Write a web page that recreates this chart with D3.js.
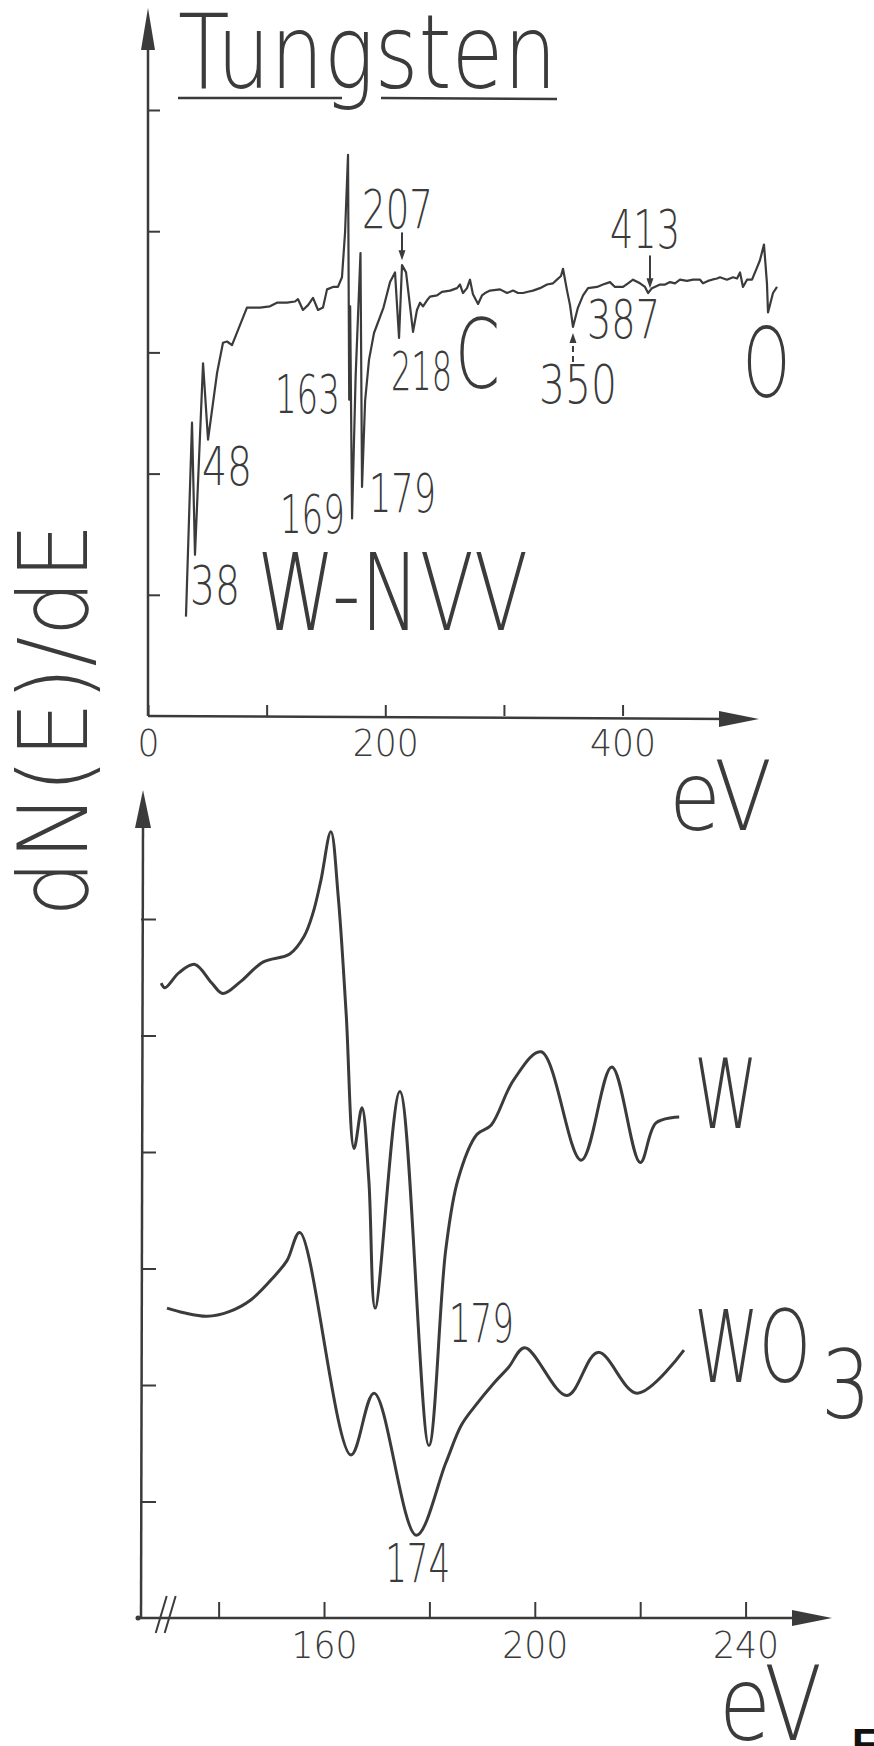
<!DOCTYPE html>
<html>
<head>
<meta charset="utf-8">
<script src="https://cdn.jsdelivr.net/npm/d3@7"></script>
<style>
  body { margin: 0; background: #fff; }
  svg { display: block; }
</style>
</head>
<body>
<script>
var width = 874;
var height = 1746;

// upper spectrum: survey 0 - 530 eV
var surveyEV = [32.0, 37.1, 39.6, 46.4, 50.6, 58.2, 63.2, 66.6, 70.8, 83.4, 94.4, 102.8, 108.7, 117.2, 123.9, 126.4,
  130.6, 134.9, 139.1, 143.3, 147.5, 150.9, 155.9, 160.1, 163.5, 166.1, 168.6, 169.2, 169.6, 170.4, 172.0, 175.0,
  179.1, 180.4, 183.0, 186.3, 190.5, 198.5, 204.0, 208.2, 211.6, 214.1, 217.5, 223.4, 226.7, 229.3, 231.8, 235.2,
  237.7, 243.6, 247.8, 254.6, 260.5, 263.0, 265.5, 268.9, 271.4, 273.9, 278.2, 281.5, 284.1, 288.3, 296.7, 302.6,
  307.7, 311.9, 316.1, 320.3, 324.5, 330.4, 336.3, 341.4, 344.7, 348.1, 349.8, 353.2, 355.7, 358.2, 362.4, 366.7,
  370.9, 378.5, 383.5, 389.4, 393.6, 400.4, 404.6, 408.8, 414.7, 418.9, 421.5, 424.8, 431.6, 435.8, 440.0, 444.2,
  448.4, 454.3, 459.4, 465.3, 467.8, 472.0, 475.4, 479.6, 482.1, 488.0, 493.1, 496.5, 499.0, 501.5, 504.9, 509.1,
  513.3, 515.8, 519.2, 521.7, 522.6, 526.8, 530.2];
var surveySignal = [0.82, 2.42, 1.33, 2.91, 2.28, 2.83, 3.08, 3.09, 3.06, 3.37, 3.37, 3.38, 3.41, 3.41, 3.42, 3.44,
  3.35, 3.39, 3.45, 3.35, 3.37, 3.52, 3.54, 3.54, 3.62, 3.99, 4.63, 3.40, 2.61, 3.38, 1.63, 2.80,
  3.82, 1.89, 2.60, 2.94, 3.16, 3.37, 3.58, 3.66, 3.12, 3.72, 3.66, 3.17, 3.35, 3.41, 3.38, 3.43,
  3.46, 3.47, 3.50, 3.51, 3.53, 3.56, 3.49, 3.53, 3.60, 3.48, 3.40, 3.47, 3.49, 3.51, 3.52, 3.49,
  3.51, 3.49, 3.49, 3.50, 3.51, 3.53, 3.56, 3.57, 3.60, 3.63, 3.69, 3.51, 3.39, 3.21, 3.37, 3.47,
  3.53, 3.54, 3.56, 3.58, 3.54, 3.54, 3.57, 3.60, 3.57, 3.54, 3.49, 3.53, 3.56, 3.56, 3.58, 3.57,
  3.60, 3.59, 3.60, 3.60, 3.57, 3.59, 3.60, 3.61, 3.62, 3.60, 3.62, 3.61, 3.66, 3.54, 3.60, 3.60,
  3.70, 3.76, 3.89, 3.57, 3.33, 3.49, 3.54];

// lower spectra: W-NVV region, metal and oxide
var metalEV = [129.1, 129.8, 132.5, 135.5, 138.7, 140.8, 144.1, 148.4, 153.5, 156.2, 157.9, 159.4, 161.3, 162.7,
  164.2, 165.7, 167.2, 168.5, 169.7, 174.4, 179.9, 183.1, 185.4, 189.0, 191.7, 196.0, 201.2, 208.8, 214.6,
  220.0, 223.0, 227.4];
var metalSignal = [5.45, 5.41, 5.54, 5.61, 5.45, 5.36, 5.46, 5.63, 5.70, 5.85, 6.05, 6.33, 6.75, 6.19,
  5.19, 4.03, 4.38, 3.76, 2.66, 4.52, 1.48, 3.16, 3.76, 4.15, 4.23, 4.62, 4.86, 3.93, 4.73,
  3.91, 4.25, 4.30];
var oxideEV = [130.2, 133.4, 137.8, 142.0, 146.1, 150.5, 153.0, 155.4, 165.1, 169.5, 177.5, 183.1, 186.0, 188.5,
  192.3, 195.0, 198.1, 206.1, 212.0, 219.4, 228.3];
var oxideSignal = [2.66, 2.62, 2.59, 2.63, 2.73, 2.93, 3.07, 3.31, 1.40, 1.93, 0.71, 1.33, 1.65, 1.81,
  2.02, 2.15, 2.32, 1.91, 2.28, 1.93, 2.30];

// axis ticks
var surveyTicks = [0, 100, 200, 300, 400];
var surveyTickLabels = [0, 200, 400];
var detailTicks = [140, 160, 180, 200, 220, 240];
var detailTickLabels = [160, 200, 240];

// peak energies written on the survey, and where each number sits (eV, signal)
var surveyNoteText = ["38", "48", "163", "169", "179", "207", "218", "350", "387", "413"];
var surveyNoteEV = [35.4, 45.5, 161.8, 166.0, 186.3, 180.4, 204.8, 329.6, 370.0, 389.4];
var surveyNoteVal = [0.92, 1.91, 2.50, 1.51, 1.68, 4.03, 2.69, 2.58, 3.12, 3.86];
var surveyNoteLen = [50, 50, 65, 65, 67, 71, 61, 78, 73, 70];
var surveyNoteAnchor = ["start", "start", "end", "end", "start", "start", "start", "start", "start", "start"];

// arrows on the survey: eV, from, to
var arrowEV = [214.1, 423.1, 358.2];
var arrowFrom = [3.99, 3.80, 2.92];
var arrowTo = [3.76, 3.53, 3.16];

var detailNoteText = ["179", "174"];
var detailNoteEV = [183.7, 171.6];
var detailNoteVal = [2.37, 0.31];

var ink = "#3b3b3b";
var thin = "DejaVu Sans";

var svg = d3.select("body").append("svg")
  .attr("width", width)
  .attr("height", height);

svg.append("rect").attr("width", width).attr("height", height).attr("fill", "#fff");

var label = function(x, y, txt, size, len, anchor){
  var t = svg.append("text")
    .attr("x", x).attr("y", y)
    .attr("font-family", thin)
    .attr("font-weight", 200)
    .attr("font-size", size)
    .attr("fill", ink)
    .attr("text-anchor", anchor || "start")
    .text(txt);
  if (len) t.attr("textLength", len).attr("lengthAdjust", "spacingAndGlyphs");
  return t;
};

var arrowHead = function(x, y, dx, dy, len, half){
  // tip at (x,y), pointing along (dx,dy)
  var bx = x - dx*len, by = y - dy*len;
  var px = -dy*half, py = dx*half;
  svg.append("path")
    .attr("d", "M" + x + "," + y + "L" + (bx+px) + "," + (by+py) + "L" + (bx-px) + "," + (by-py) + "Z")
    .attr("fill", ink);
};

// ---------- upper panel ----------
var xTop = d3.scaleLinear().domain([0, 515]).range([148, 759]);
var yTop = d3.scaleLinear().domain([0, 5]).range([716, 110]);

svg.append("g")
  .attr("transform", "translate(0," + yTop(0) + ")")
  .call(d3.axisBottom(xTop)
    .tickValues(surveyTicks)
    .tickSizeInner(-11).tickSizeOuter(0).tickPadding(13)
    .tickFormat(function(d){ return surveyTickLabels.indexOf(d) >= 0 ? d : ""; }))
  .call(function(g){
    g.select(".domain").remove();
    g.selectAll("line").attr("stroke", ink).attr("stroke-width", 2);
    g.selectAll("text")
      .attr("font-family", thin).attr("font-weight", 200).attr("font-size", 38).attr("fill", ink)
      .each(function(d){
        if (surveyTickLabels.indexOf(d) >= 0)
          d3.select(this).attr("textLength", String(d).length*22).attr("lengthAdjust", "spacingAndGlyphs");
      });
  });

svg.append("g")
  .attr("transform", "translate(" + xTop(0) + ",0)")
  .call(d3.axisLeft(yTop).tickValues([1, 2, 3, 4, 5]).tickSizeInner(-12).tickSizeOuter(0).tickFormat(""))
  .call(function(g){
    g.select(".domain").remove();
    g.selectAll("line").attr("stroke", ink).attr("stroke-width", 2);
  });

svg.append("line")
  .attr("x1", xTop(0)).attr("y1", yTop(0))
  .attr("x2", xTop(0)).attr("y2", 40)
  .attr("stroke", ink).attr("stroke-width", 2.5);
arrowHead(xTop(0), 8, 0, -1, 42, 7);

svg.append("line")
  .attr("x1", xTop(0)).attr("y1", yTop(0))
  .attr("x2", xTop(515) - 30).attr("y2", yTop(0) + 3)
  .attr("stroke", ink).attr("stroke-width", 2.5);
arrowHead(xTop(515), yTop(0) + 3, 1, 0, 40, 8);

var surveyLine = d3.line()
  .x(function(i){ return xTop(surveyEV[i]); })
  .y(function(i){ return yTop(surveySignal[i]); });

svg.append("path")
  .attr("d", surveyLine(d3.range(surveyEV.length)))
  .attr("fill", "none")
  .attr("stroke", ink)
  .attr("stroke-width", 2.2)
  .attr("stroke-linejoin", "round");

surveyNoteText.forEach(function(t, i){
  label(xTop(surveyNoteEV[i]), yTop(surveyNoteVal[i]), t, 54, surveyNoteLen[i], surveyNoteAnchor[i]);
});

arrowEV.forEach(function(ev, i){
  var x = xTop(ev), y1 = yTop(arrowFrom[i]), y2 = yTop(arrowTo[i]);
  var dir = y2 > y1 ? 1 : -1;
  svg.append("line")
    .attr("x1", x).attr("y1", y1).attr("x2", x).attr("y2", y2 - dir*8)
    .attr("stroke", ink).attr("stroke-width", 2)
    .attr("stroke-dasharray", i === 2 ? "6,4" : null);
  arrowHead(x, y2, 0, dir, 10, 3.5);
});

label(178, 88, "Tungsten", 103, 379);
svg.append("line").attr("x1", 178).attr("y1", 98).attr("x2", 342).attr("y2", 98)
  .attr("stroke", ink).attr("stroke-width", 2.5);
svg.append("line").attr("x1", 381).attr("y1", 98).attr("x2", 557).attr("y2", 99)
  .attr("stroke", ink).attr("stroke-width", 2.5);

label(xTop(91.9), yTop(0.71), "W-NVV", 107, 271);
label(xTop(258.8), yTop(2.71), "C", 97, 45);
label(xTop(501.5), yTop(2.63), "O", 97, 47);
label(669, 830, "eV", 96, 103);

// y title shared by both panels
svg.append("text")
  .attr("transform", "translate(87,917) rotate(-90)")
  .attr("font-family", thin).attr("font-weight", 200)
  .attr("font-size", 96).attr("fill", ink)
  .attr("textLength", 394).attr("lengthAdjust", "spacingAndGlyphs")
  .text("dN(E)/dE");

// ---------- lower panel ----------
var xBot = d3.scaleLinear().domain([124.7, 256.4]).range([138, 832]);
var yBot = d3.scaleLinear().domain([0, 6]).range([1618, 919]);

svg.append("g")
  .attr("transform", "translate(0," + yBot(0) + ")")
  .call(d3.axisBottom(xBot)
    .tickValues(detailTicks)
    .tickSizeInner(-16).tickSizeOuter(0).tickPadding(13)
    .tickFormat(function(d){ return detailTickLabels.indexOf(d) >= 0 ? d : ""; }))
  .call(function(g){
    g.select(".domain").remove();
    g.selectAll("line").attr("stroke", ink).attr("stroke-width", 2);
    g.selectAll("text")
      .attr("font-family", thin).attr("font-weight", 200).attr("font-size", 38).attr("fill", ink)
      .each(function(d){
        if (detailTickLabels.indexOf(d) >= 0)
          d3.select(this).attr("textLength", 66).attr("lengthAdjust", "spacingAndGlyphs");
      });
  });

svg.append("g")
  .attr("transform", "translate(141,0)")
  .call(d3.axisLeft(yBot).tickValues([1, 2, 3, 4, 5, 6]).tickSizeInner(-15).tickSizeOuter(0).tickFormat(""))
  .call(function(g){
    g.select(".domain").remove();
    g.selectAll("line").attr("stroke", ink).attr("stroke-width", 2);
  });

svg.append("line")
  .attr("x1", 141).attr("y1", yBot(0))
  .attr("x2", 143).attr("y2", 825)
  .attr("stroke", ink).attr("stroke-width", 2.5);
arrowHead(143, 790, 0, -1, 38, 8);

svg.append("line")
  .attr("x1", xBot(124.7)).attr("y1", yBot(0))
  .attr("x2", xBot(256.4) - 30).attr("y2", yBot(0))
  .attr("stroke", ink).attr("stroke-width", 2.5);
arrowHead(xBot(256.4), yBot(0), 1, 0, 40, 8);
svg.append("circle").attr("cx", xBot(124.7)).attr("cy", yBot(0)).attr("r", 2.5).attr("fill", ink);

// axis break marks
[129.2, 130.9].forEach(function(ev){
  var x = xBot(ev);
  svg.append("line")
    .attr("x1", x - 6).attr("y1", yBot(0) + 15)
    .attr("x2", x + 5).attr("y2", yBot(0) - 22)
    .attr("stroke", ink).attr("stroke-width", 2);
});

var detailLine = function(ev, sig){
  return d3.line()
    .curve(d3.curveCatmullRom.alpha(0.5))
    .x(function(i){ return xBot(ev[i]); })
    .y(function(i){ return yBot(sig[i]); })(d3.range(ev.length));
};

svg.append("path")
  .attr("d", detailLine(metalEV, metalSignal))
  .attr("fill", "none").attr("stroke", ink).attr("stroke-width", 3)
  .attr("stroke-linejoin", "round");

svg.append("path")
  .attr("d", detailLine(oxideEV, oxideSignal))
  .attr("fill", "none").attr("stroke", ink).attr("stroke-width", 3)
  .attr("stroke-linejoin", "round");

detailNoteText.forEach(function(t, i){
  label(xBot(detailNoteEV[i]), yBot(detailNoteVal[i]), t, 54, 65);
});

label(xBot(230.2), yBot(4.21), "W", 96, 64);
label(xBot(230.2), yBot(2.03), "WO", 99, 117);
label(821, 1418, "3", 94, 50);
label(719, 1740, "eV", 103, 103);

svg.append("text")
  .attr("x", 852).attr("y", 1758)
  .attr("font-family", "Liberation Sans").attr("font-weight", "bold")
  .attr("font-size", 42).attr("fill", "#111")
  .text("F");
</script>
</body>
</html>
